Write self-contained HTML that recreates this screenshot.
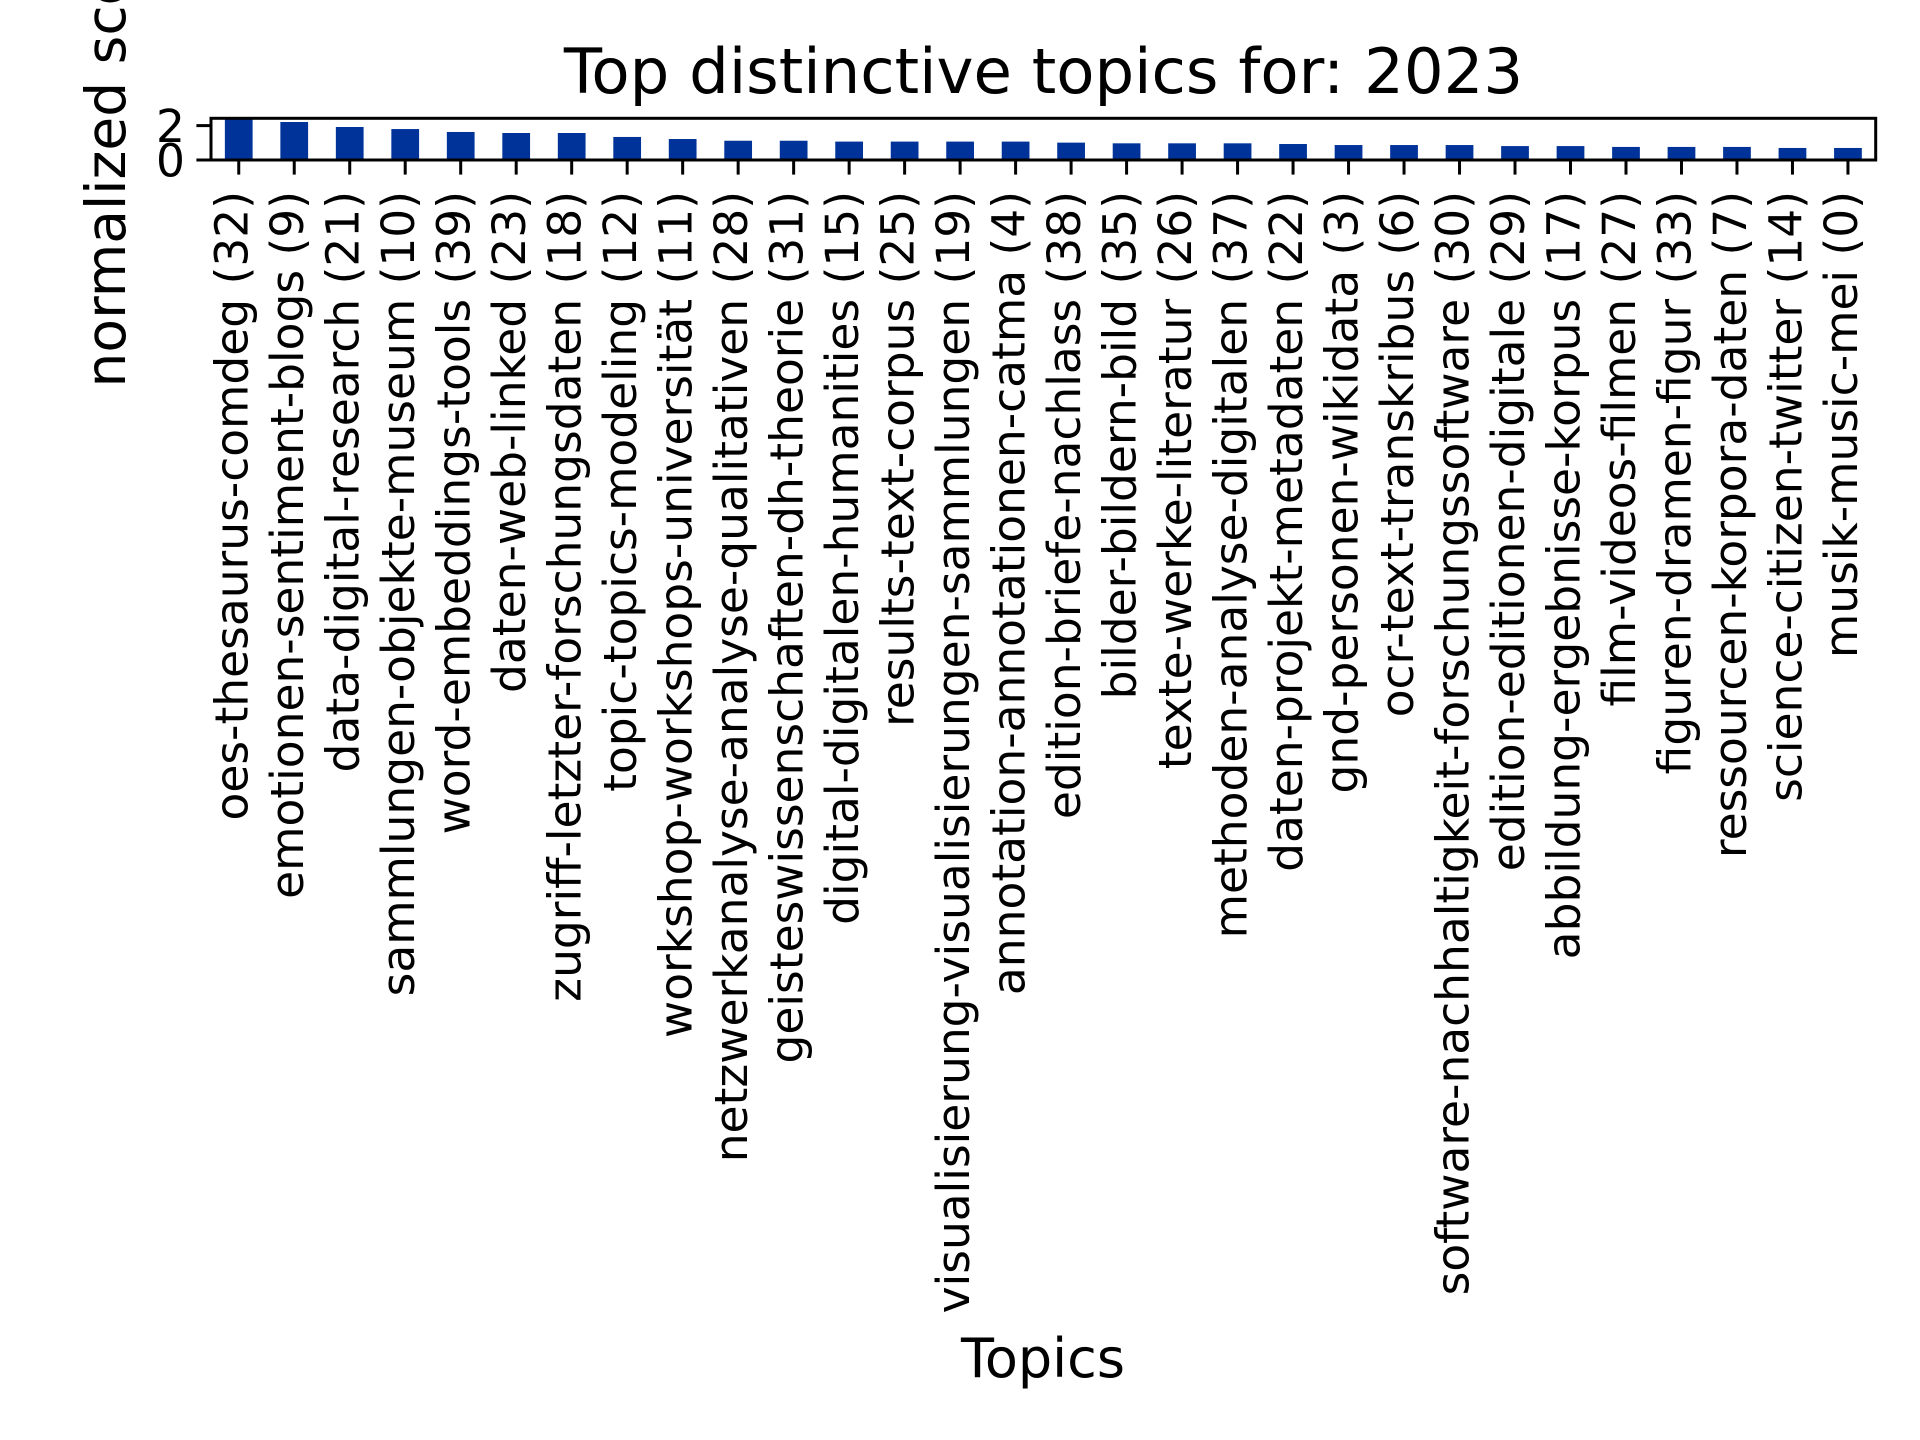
<!DOCTYPE html>
<html><head><meta charset="utf-8"><style>
html,body{margin:0;padding:0;background:#fff;}
svg{display:block;font-family:"DejaVu Sans","Liberation Sans",sans-serif;}
</style></head><body>
<svg id="chart" width="1920" height="1440" viewBox="0 0 1920 1440" xmlns="http://www.w3.org/2000/svg">
<rect width="1920" height="1440" fill="#fff"/>
<text x="1043.5" y="93" font-size="62.5" text-anchor="middle">Top distinctive topics for: 2023</text>
<text transform="translate(125,152) rotate(-90)" font-size="55" text-anchor="middle">normalized score</text>
<text x="1043" y="1377" font-size="54" text-anchor="middle">Topics</text>
<g id="bars"></g>
<g id="xticks"></g>
<g id="yticks"></g>
<rect x="211" y="118.3" width="1664.7" height="41.7" fill="none" stroke="#000" stroke-width="3"/>
</svg>
<script>
const categories = ["oes-thesaurus-comdeg (32)","emotionen-sentiment-blogs (9)","data-digital-research (21)","sammlungen-objekte-museum (10)","word-embeddings-tools (39)","daten-web-linked (23)","zugriff-letzter-forschungsdaten (18)","topic-topics-modeling (12)","workshop-workshops-universität (11)","netzwerkanalyse-analyse-qualitativen (28)","geisteswissenschaften-dh-theorie (31)","digital-digitalen-humanities (15)","results-text-corpus (25)","visualisierung-visualisierungen-sammlungen (19)","annotation-annotationen-catma (4)","edition-briefe-nachlass (38)","bilder-bildern-bild (35)","texte-werke-literatur (26)","methoden-analyse-digitalen (37)","daten-projekt-metadaten (22)","gnd-personen-wikidata (3)","ocr-text-transkribus (6)","software-nachhaltigkeit-forschungssoftware (30)","edition-editionen-digitale (29)","abbildung-ergebnisse-korpus (17)","film-videos-filmen (27)","figuren-dramen-figur (33)","ressourcen-korpora-daten (7)","science-citizen-twitter (14)","musik-music-mei (0)"];
const values = [2.36,2.21,1.92,1.80,1.63,1.57,1.57,1.34,1.22,1.12,1.12,1.07,1.07,1.07,1.07,1.01,0.97,0.97,0.97,0.93,0.87,0.87,0.87,0.81,0.81,0.76,0.76,0.76,0.70,0.70];
const yTicks = [0, 2];
const yTickLabels = ["0", "2"];

const NS = "http://www.w3.org/2000/svg";
const axL = 211, axR = 1875.7, axT = 118.3, axB = 160;
const yMax = 2.425;
const band = (axR - axL) / categories.length;
function xCenter(i){ return axL + band * (i + 0.5); }
function yPos(v){ return axB - (v / yMax) * (axB - axT); }
function mk(tag, attrs){ const e = document.createElementNS(NS, tag); for (const k in attrs) e.setAttribute(k, attrs[k]); return e; }

const gb = document.getElementById('bars');
const gx = document.getElementById('xticks');
const gy = document.getElementById('yticks');
const bw = band * 0.5;
values.forEach((v, i) => {
  const r = mk('rect', {x: xCenter(i) - bw/2, y: yPos(v), width: bw, height: axB - yPos(v), fill: '#003399'});
  
  
  gb.appendChild(r);
});
categories.forEach((c, i) => {
  const x = xCenter(i);
  const t = mk('line', {x1: x, x2: x, y1: axB, y2: axB + 14.6, stroke: '#000', 'stroke-width': 3});
  
  
  gx.appendChild(t);
  const l = mk('text', {transform: 'translate(' + (x + 9) + ',191) rotate(-90)', 'font-size': 45.5, 'text-anchor': 'end'});
  l.textContent = c;
  
  
  gx.appendChild(l);
});
yTicks.forEach((v, i) => {
  const y = yPos(v);
  const t = mk('line', {x1: axL - 14.6, x2: axL, y1: y, y2: y, stroke: '#000', 'stroke-width': 3});
  
  
  gy.appendChild(t);
  const l = mk('text', {x: 185, y: y + 16.6, 'font-size': 45.5, 'text-anchor': 'end'});
  l.textContent = yTickLabels[i];
  
  
  gy.appendChild(l);
});
</script>
</body></html>
